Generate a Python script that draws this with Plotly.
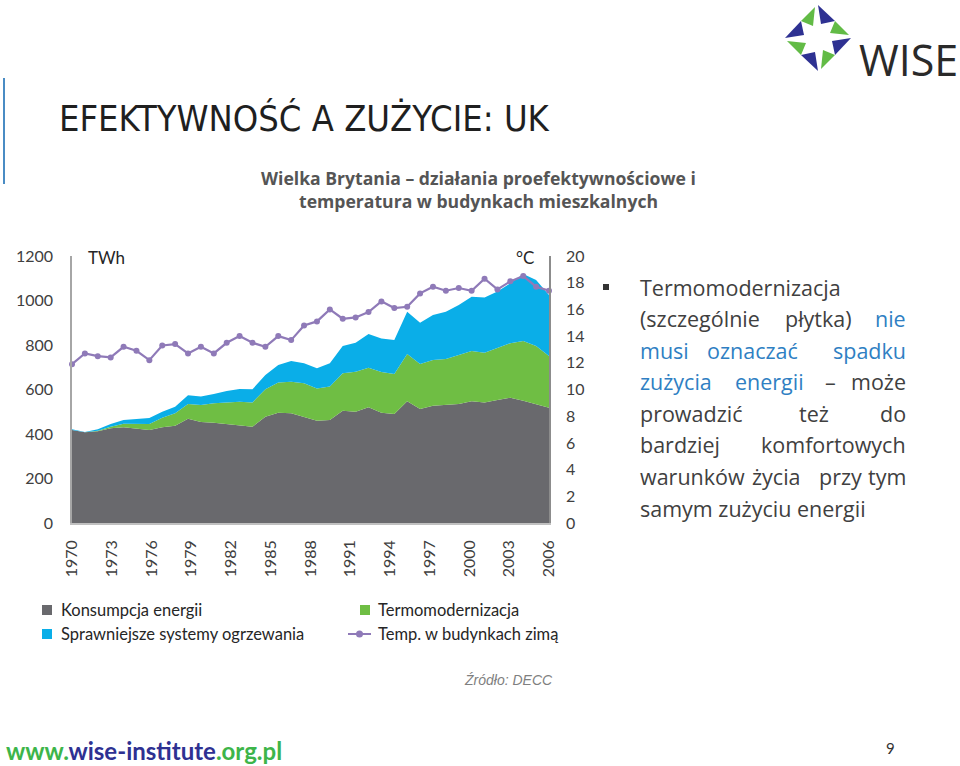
import plotly.graph_objects as go

# ---------------- data ----------------
years = list(range(1970, 2008))
consumption = [418, 408, 412, 426, 430, 424, 418, 430, 437, 469,
               454, 451, 445, 440, 433, 478, 496, 493, 478, 460,
               463, 505, 500, 520, 496, 490, 547, 512, 527, 530,
               535, 547, 542, 553, 563, 550, 535, 518]
insulation = [0, 0, 3, 7, 16, 20, 27, 43, 56, 66,
              76, 87, 97, 105, 109, 123, 135, 142, 150, 145,
              150, 168, 180, 178, 183, 180, 213, 203, 206, 207,
              220, 226, 223, 232, 245, 268, 261, 233]
heating = [3, 1, 6, 12, 17, 23, 27, 27, 30, 39,
           38, 42, 51, 57, 59, 64, 79, 93, 90, 90,
           105, 123, 130, 151, 150, 152, 190, 185, 202, 213,
           225, 244, 248, 255, 269, 301, 296, 274]
temperature = [11.9, 12.7, 12.5, 12.4, 13.2, 12.9, 12.2, 13.3, 13.4, 12.7,
               13.2, 12.7, 13.5, 14.0, 13.5, 13.2, 14.0, 13.7, 14.8, 15.1,
               16.0, 15.3, 15.4, 15.8, 16.6, 16.1, 16.2, 17.2, 17.7, 17.4,
               17.6, 17.4, 18.3, 17.5, 18.1, 18.5, 17.7, 17.4]
tick_years = list(range(1970, 2007, 3))

series_names = ["Konsumpcja energii", "Termomodernizacja",
                "Sprawniejsze systemy ogrzewania", "Temp. w budynkach zimą"]

C_GRAY = "#69696d"
C_GREEN = "#6fbe44"
C_BLUE = "#0aaee8"
C_PURPLE = "#8f7ab8"
TXT = "#262626"

# plot area in pixels: x 72..549, y 256..523
L, R, T, B = 72, 549, 256, 523
W, H = R - L, B - T


def PX(x):
    return (x - L) / W


def PY(y):
    return (B - y) / H


fig = go.Figure()
for vals, name, col in [(consumption, series_names[0], C_GRAY),
                        (insulation, series_names[1], C_GREEN),
                        (heating, series_names[2], C_BLUE)]:
    fig.add_trace(go.Scatter(x=years, y=vals, name=name, stackgroup="one",
                             mode="lines", line=dict(width=0, color=col),
                             fillcolor=col))
fig.add_trace(go.Scatter(x=years, y=temperature, name=series_names[3], yaxis="y2",
                         mode="lines+markers", line=dict(color=C_PURPLE, width=2.2),
                         marker=dict(size=6, color=C_PURPLE), cliponaxis=False))

n = years[-1] - years[0]
tickvals = [years[0] + (y - tick_years[0]) * n / (tick_years[-1] - tick_years[0]) for y in tick_years]

axis_font = dict(family="Lato", size=16, color="#404040")
fig.update_layout(
    width=960, height=766,
    margin=dict(l=L, r=960 - R, t=T, b=766 - B),
    paper_bgcolor="white", plot_bgcolor="white",
    showlegend=False,
    font=dict(family="Lato", color=TXT),
    xaxis=dict(range=[years[0], years[-1]], tickvals=tickvals,
               ticktext=[str(y) for y in tick_years], tickangle=-90,
               tickfont=axis_font, showline=True, linecolor="#c0c0c0", linewidth=1.5,
               ticks="outside", ticklen=9, tickcolor="rgba(0,0,0,0)",
               showgrid=False, zeroline=False),
    yaxis=dict(range=[0, 1200], dtick=200, tickfont=axis_font, showline=True,
               linecolor="#a6a6a6", linewidth=1.5, ticks="outside", ticklen=14,
               tickcolor="rgba(0,0,0,0)", showgrid=False, zeroline=False),
    yaxis2=dict(range=[0, 20], dtick=2, overlaying="y", side="right",
                tickfont=axis_font, showline=True, linecolor="#8c8c8c", linewidth=1.5,
                ticks="outside", ticklen=12, tickcolor="rgba(0,0,0,0)",
                showgrid=False, zeroline=False),
)

ann = []
shapes = []


def text(x, y, s, size=16, color=TXT, family="Lato", xanchor="left", yanchor="middle"):
    ann.append(dict(x=PX(x), y=PY(y), xref="paper", yref="paper", text=s,
                    showarrow=False, xanchor=xanchor, yanchor=yanchor,
                    font=dict(size=size, color=color, family=family)))


# axis unit labels
text(86, 257, "TWh", size=17)
text(536, 257, "°C", size=17, xanchor="right")

# title & subtitle
text(57, 118, "EFEKTYWNOŚĆ A ZUŻYCIE: UK", size=36, color="#1f1f1f",
     family="DejaVu Sans Condensed, Liberation Sans Narrow, Roboto, Lato")
text(478, 178, "<b>Wielka Brytania – działania proefektywnościowe i</b>", size=17.6,
     color="#555555", family="Open Sans", xanchor="center")
text(478, 201, "<b>temperatura w budynkach mieszkalnych</b>", size=17.6,
     color="#555555", family="Open Sans", xanchor="center")
shapes.append(dict(type="line", xref="paper", yref="paper", x0=PX(4), x1=PX(4),
                   y0=PY(78), y1=PY(184), line=dict(color="#4a8cc4", width=2)))

# legend (manual)
for (x0, y0, col) in [(42, 610, C_GRAY), (360, 610, C_GREEN), (42, 634, C_BLUE)]:
    shapes.append(dict(type="rect", xref="paper", yref="paper", x0=PX(x0), x1=PX(x0 + 10),
                       y0=PY(y0 - 5), y1=PY(y0 + 5), fillcolor=col, line=dict(width=0)))
shapes.append(dict(type="line", xref="paper", yref="paper", x0=PX(348), x1=PX(371),
                   y0=PY(634), y1=PY(634), line=dict(color=C_PURPLE, width=2)))
shapes.append(dict(type="circle", xref="paper", yref="paper", x0=PX(356), x1=PX(363),
                   y0=PY(637.5), y1=PY(630.5), fillcolor=C_PURPLE, line=dict(width=0)))
text(59, 610, series_names[0], size=16.5)
text(376, 610, series_names[1], size=16.5)
text(59, 634, series_names[2], size=16.5)
text(376, 634, series_names[3], size=16.5)

# source
text(555, 680, "<i>Źródło: DECC</i>", size=14, color="#7f7f7f",
     family="Liberation Sans", xanchor="right")

# right paragraph (justified by words)
DARK = "#404040"
BLUEt = "#2f7fc3"
PF = "Open Sans"
PS = 21.5
shapes.append(dict(type="rect", xref="paper", yref="paper", x0=PX(603), x1=PX(609),
                   y0=PY(290), y1=PY(284), fillcolor="#333333", line=dict(width=0)))
lines = [
    (287, [("Termomodernizacja", DARK, 638, "left")]),
    (318, [("(szczególnie", DARK, 638, "left"), ("płytka)", DARK, 818, "center"),
           ("nie", BLUEt, 908, "right")]),
    (350, [("musi", BLUEt, 638, "left"), ("oznaczać", BLUEt, 752, "center"),
           ("spadku", BLUEt, 908, "right")]),
    (381, [("zużycia", BLUEt, 638, "left"), ("energii", BLUEt, 769, "center"),
           ("–", DARK, 830, "center"), ("może", DARK, 908, "right")]),
    (413, [("prowadzić", DARK, 638, "left"), ("też", DARK, 814, "center"),
           ("do", DARK, 908, "right")]),
    (444, [("bardziej", DARK, 638, "left"), ("komfortowych", DARK, 908, "right")]),
    (476, [("warunków", DARK, 638, "left"), ("życia", DARK, 776, "center"),
           ("przy", DARK, 840, "center"), ("tym", DARK, 908, "right")]),
    (508, [("samym zużyciu energii", DARK, 638, "left")]),
]
for y, words in lines:
    for w, col, x, anc in words:
        text(x, y, w, size=PS, color=col, family=PF, xanchor=anc)

# footer
text(4, 750, "<b><span style='color:#3db54a'>www.</span>"
             "<span style='color:#2e3192'>wise-institute</span>"
             "<span style='color:#3db54a'>.org.pl</span></b>",
     size=24, family="Lato")
text(890, 748, "9", size=15, color="#333333", xanchor="center")

# logo
text(960, 59, "WISE", size=43, color="#2a2a2a", family="Open Sans", xanchor="right")
cx, cy = 818, 38
navy_tri = [(0, -33), (17, -17), (3, -14)]
green_tri = [(17, -17), (31, -3), (12, -5)]


def rot(pts, k):
    out = []
    for x, y in pts:
        for _ in range(k):
            x, y = -y, x
        out.append((x, y))
    return out


for k in range(4):
    for tri, col in [(navy_tri, "#2e3192"), (green_tri, "#62bb46")]:
        pts = rot(tri, k)
        path = "M " + " L ".join(f"{PX(cx + x):.5f},{PY(cy + y):.5f}" for x, y in pts) + " Z"
        shapes.append(dict(type="path", xref="paper", yref="paper", path=path,
                           fillcolor=col, line=dict(width=0)))

fig.update_layout(annotations=ann, shapes=shapes)
fig.write_html("out.html")
